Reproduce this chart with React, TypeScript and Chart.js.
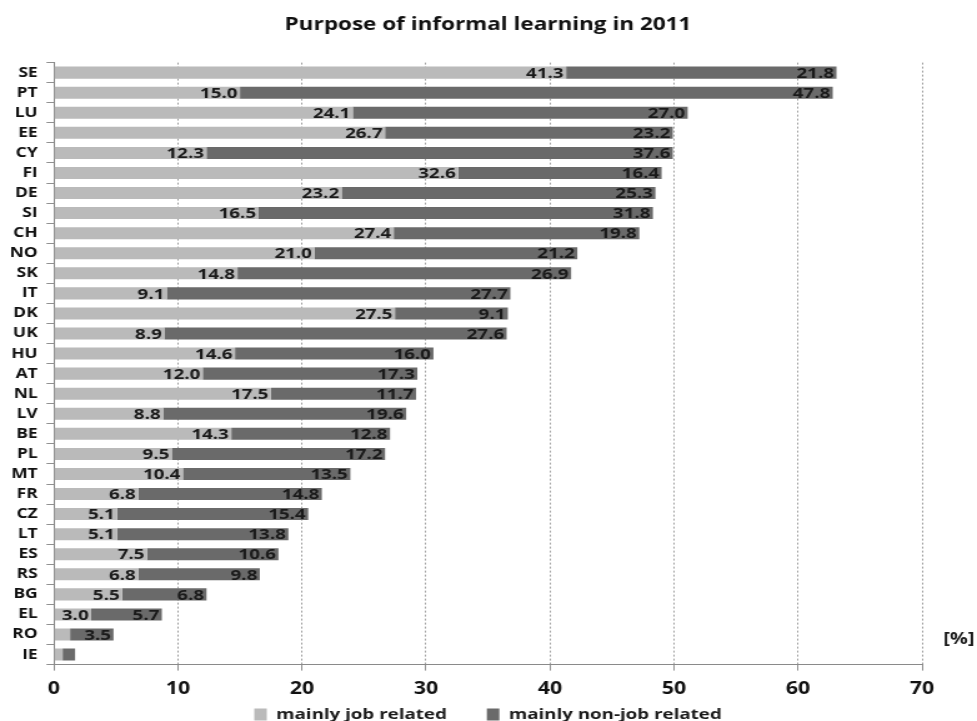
import React, { useEffect, useRef } from "react";
import { Chart, registerables } from "chart.js";

Chart.register(...registerables);

const countries = ["SE","PT","LU","EE","CY","FI","DE","SI","CH","NO","SK","IT","DK","UK","HU","AT","NL","LV","BE","PL","MT","FR","CZ","LT","ES","RS","BG","EL","RO","IE"];
const jobRelated = [41.3,15.0,24.1,26.7,12.3,32.6,23.2,16.5,27.4,21.0,14.8,9.1,27.5,8.9,14.6,12.0,17.5,8.8,14.3,9.5,10.4,6.8,5.1,5.1,7.5,6.8,5.5,3.0,1.3,0.7];
const nonJobRelated = [21.8,47.8,27.0,23.2,37.6,16.4,25.3,31.8,19.8,21.2,26.9,27.7,9.1,27.6,16.0,17.3,11.7,19.6,12.8,17.2,13.5,14.8,15.4,13.8,10.6,9.8,6.8,5.7,3.5,1.0];
const xTicks = [0,10,20,30,40,50,60,70];

const FONT = "'Open Sans', 'DejaVu Sans', sans-serif";
// the reference picture is stretched horizontally; draw narrower and stretch via CSS
const CANVAS_W = 782;
const CANVAS_H = 721;
const LEGEND_GAP = 32;

const labelPlugin = {
  id: "segLabels",
  afterLayout(chart: any) {
    // legend padding is used as the gap between items; lift the row back up
    const lg = chart.legend;
    if (lg) {
      lg.top -= LEGEND_GAP;
      lg.bottom -= LEGEND_GAP;
    }
  },
  afterDatasetsDraw(chart: any) {
    const ctx = chart.ctx;
    ctx.save();
    ctx.font = `bold 15px ${FONT}`;
    ctx.fillStyle = "#1a1a1a";
    ctx.textAlign = "right";
    ctx.textBaseline = "middle";
    chart.data.datasets.forEach((ds: any, di: number) => {
      const meta = chart.getDatasetMeta(di);
      meta.data.forEach((bar: any, i: number) => {
        const v = ds.data[i];
        if (v < 2) return;
        ctx.fillText(v.toFixed(1), bar.x - 2, bar.y + 1);
      });
    });
    const xs = chart.scales.x;
    ctx.textAlign = "left";
    ctx.font = `bold 16px ${FONT}`;
    ctx.fillText("[%]", xs.right + 17, xs.top - 25);
    ctx.restore();
  },
};

export default function App() {
  const ref = useRef<HTMLCanvasElement>(null);
  useEffect(() => {
    if (!ref.current) return;
    const chart = new Chart(ref.current, {
      type: "bar",
      data: {
        labels: countries,
        datasets: [
          {
            label: "mainly job related",
            data: jobRelated,
            backgroundColor: "#bababa",
            borderWidth: 0,
            barPercentage: 0.6,
            categoryPercentage: 1,
          },
          {
            label: "mainly non-job related",
            data: nonJobRelated,
            backgroundColor: "#6a6a6a",
            borderWidth: 0,
            barPercentage: 0.6,
            categoryPercentage: 1,
          },
        ],
      },
      options: {
        indexAxis: "y",
        animation: false,
        responsive: false,
        maintainAspectRatio: false,
        devicePixelRatio: 1,
        layout: { padding: { left: 0, right: 44, top: 5, bottom: -43 } },
        plugins: {
          title: {
            display: true,
            fullSize: false,
            text: "Purpose of informal learning in 2011",
            color: "#111",
            font: { family: FONT, size: 18, weight: "bold" },
            padding: { top: 9, bottom: 27 },
          },
          legend: {
            position: "bottom",
            fullSize: false,
            labels: {
              color: "#1a1a1a",
              font: { family: FONT, size: 15, weight: "bold" },
              boxWidth: 10,
              boxHeight: 12,
              padding: LEGEND_GAP,
            },
          },
          tooltip: { enabled: false },
        },
        scales: {
          x: {
            stacked: true,
            min: 0,
            max: 70,
            afterBuildTicks: (axis: any) => {
              axis.ticks = xTicks.map((v) => ({ value: v }));
            },
            grid: {
              color: "#a0a0a0",
              tickColor: "#909090",
              tickLength: 6,
              lineWidth: 1,
            },
            border: { color: "#8a8a8a", dash: [2, 2], display: true },
            ticks: {
              color: "#111",
              font: { family: FONT, size: 17, weight: "bold" },
              padding: 8,
            },
          },
          y: {
            stacked: true,
            afterFit: (axis: any) => {
              axis.width = 43.2;
            },
            grid: {
              drawOnChartArea: false,
              tickLength: 6,
              tickColor: "#909090",
              offset: true,
            },
            border: { color: "#8a8a8a" },
            ticks: {
              color: "#111",
              font: { family: FONT, size: 14, weight: "bold" },
              padding: 7,
              autoSkip: false,
            },
          },
        },
      },
      plugins: [labelPlugin],
    });
    return () => chart.destroy();
  }, []);
  return (
    <div style={{ position: "absolute", left: 0, top: 0, width: 977, height: 721, background: "#fff", overflow: "hidden" }}>
      <canvas
        ref={ref}
        width={CANVAS_W}
        height={CANVAS_H}
        style={{ width: "977px", height: "721px", display: "block" }}
      />
    </div>
  );
}
